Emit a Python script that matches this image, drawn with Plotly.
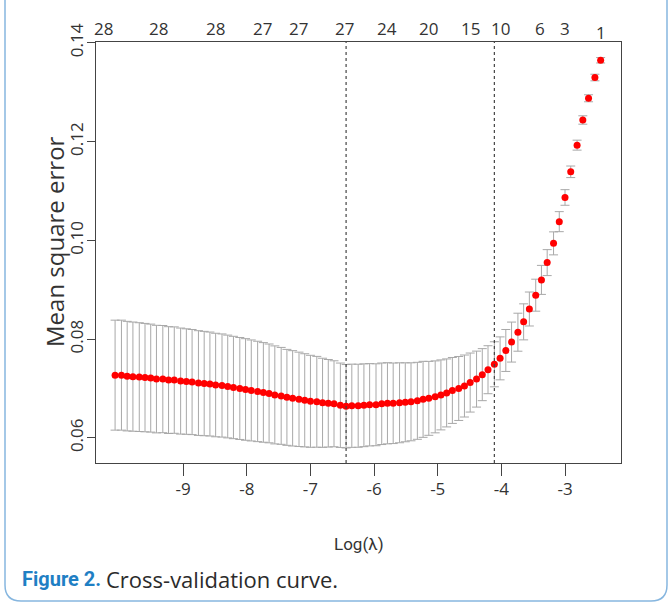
import plotly.graph_objects as go

# log(lambda) for each fitted lambda (left to right)
log_lambda = [-10.07, -9.97, -9.88, -9.79, -9.69, -9.60, -9.51, -9.42, -9.32, -9.23,
              -9.14, -9.04, -8.95, -8.86, -8.76, -8.67, -8.58, -8.49, -8.39, -8.30,
              -8.21, -8.11, -8.02, -7.93, -7.83, -7.74, -7.65, -7.56, -7.46, -7.37,
              -7.28, -7.18, -7.09, -7.00, -6.90, -6.81, -6.72, -6.63, -6.53, -6.44,
              -6.35, -6.25, -6.16, -6.07, -5.97, -5.88, -5.79, -5.70, -5.60, -5.51,
              -5.42, -5.32, -5.23, -5.14, -5.04, -4.95, -4.86, -4.77, -4.67, -4.58,
              -4.49, -4.39, -4.30, -4.21, -4.11, -4.02, -3.93, -3.84, -3.74, -3.65,
              -3.56, -3.46, -3.37, -3.28, -3.18, -3.09, -3.00, -2.91, -2.81, -2.72,
              -2.63, -2.53, -2.44]

# cross-validated mean square error
cvm = [0.0727, 0.0727, 0.0725, 0.0724, 0.0723, 0.0722, 0.0721, 0.0719, 0.0719, 0.0717,
       0.0717, 0.0715, 0.0714, 0.0713, 0.0711, 0.0710, 0.0709, 0.0707, 0.0706, 0.0704,
       0.0702, 0.0700, 0.0698, 0.0696, 0.0694, 0.0692, 0.0690, 0.0687, 0.0685, 0.0682,
       0.0680, 0.0678, 0.0676, 0.0674, 0.0673, 0.0671, 0.0670, 0.0669, 0.0666, 0.0664,
       0.0665, 0.0665, 0.0666, 0.0667, 0.0667, 0.0669, 0.0670, 0.0670, 0.0671, 0.0672,
       0.0673, 0.0675, 0.0678, 0.0680, 0.0683, 0.0687, 0.0691, 0.0696, 0.0700, 0.0705,
       0.0712, 0.0719, 0.0728, 0.0738, 0.0749, 0.0761, 0.0777, 0.0794, 0.0814, 0.0835,
       0.0861, 0.0889, 0.0920, 0.0955, 0.0994, 0.1038, 0.1087, 0.1139, 0.1193, 0.1244,
       0.1288, 0.1330, 0.1365]

# standard error of the CV estimate
cvsd = [0.01114, 0.01114, 0.01110, 0.01106, 0.01102, 0.01098, 0.01094, 0.01090, 0.01086, 0.01082,
        0.01078, 0.01074, 0.01069, 0.01065, 0.01061, 0.01057, 0.01053, 0.01049, 0.01045, 0.01041,
        0.01037, 0.01033, 0.01029, 0.01023, 0.01017, 0.01009, 0.01001, 0.00993, 0.00982, 0.00972,
        0.00966, 0.00956, 0.00944, 0.00932, 0.00920, 0.00903, 0.00887, 0.00871, 0.00855, 0.00845,
        0.00843, 0.00841, 0.00839, 0.00834, 0.00830, 0.00826, 0.00822, 0.00816, 0.00810, 0.00800,
        0.00790, 0.00780, 0.00770, 0.00749, 0.00729, 0.00709, 0.00689, 0.00668, 0.00648, 0.00628,
        0.00598, 0.00567, 0.00527, 0.00486, 0.00456, 0.00435, 0.00425, 0.00405, 0.00385, 0.00365,
        0.00344, 0.00324, 0.00294, 0.00263, 0.00233, 0.00203, 0.00158, 0.00117, 0.00101, 0.00085,
        0.00071, 0.00067, 0.00055]

# number of non-zero coefficients (top axis)
nz_pos = [-10.26, -9.39, -8.50, -7.76, -7.19, -6.46, -5.80, -5.15, -4.49, -4.01, -3.40, -3.00, -2.44]
nz_labels = ["28", "28", "28", "27", "27", "27", "24", "20", "15", "10", "6", "3", "1"]

lambda_min = -6.44
lambda_1se = -4.11

x_ticks = [-9, -8, -7, -6, -5, -4, -3]
y_ticks = [0.06, 0.08, 0.10, 0.12, 0.14]
y_tick_text = ["0.06", "0.08", "0.10", "0.12", "0.14"]

# plot area in pixels
L, R, T, B = 96, 621, 42, 463
W, H = 672, 608


def px(x):
    return (x - L) / (R - L)


def py(y):
    return (B - y) / (B - T)


fig = go.Figure()
fig.add_trace(go.Scatter(
    x=log_lambda, y=cvm, mode="markers",
    marker=dict(color="#ff0000", size=7, line=dict(width=0)),
    error_y=dict(type="data", array=cvsd, visible=True, color="#a8a8a8",
                 thickness=1, width=4.5),
    showlegend=False, hoverinfo="skip",
))

shapes = []
for xv in (lambda_min, lambda_1se):
    shapes.append(dict(type="line", xref="x", yref="paper", x0=xv, x1=xv, y0=0, y1=1,
                       line=dict(color="#444444", width=1.2, dash="dot")))

# rounded card border
x0, x1, y0, y1, r = px(5), px(667), py(-10), py(601), 16 / (R - L)
ry = 16 / (B - T)
path = (f"M {x0},{y0} L {x0},{y1 + ry} Q {x0},{y1} {x0 + r},{y1} "
        f"L {x1 - r},{y1} Q {x1},{y1} {x1},{y1 + ry} L {x1},{y0}")
shapes.append(dict(type="path", xref="paper", yref="paper", path=path,
                   line=dict(color="#86b6df", width=1.5)))

annotations = []
for pos, lab in zip(nz_pos, nz_labels):
    annotations.append(dict(x=pos, y=py(29 if lab != "1" else 33), xref="x", yref="paper",
                            text=lab, showarrow=False, xanchor="center", yanchor="middle",
                            font=dict(family="Open Sans", size=17, color="#333333")))

annotations.append(dict(x=0.5, y=py(544), xref="paper", yref="paper", text="Log(λ)",
                        showarrow=False, xanchor="center", yanchor="middle",
                        font=dict(family="Roboto", size=17, color="#333333")))
annotations.append(dict(x=px(54), y=py(242), xref="paper", yref="paper", text="Mean square error",
                        showarrow=False, xanchor="center", yanchor="middle", textangle=-90,
                        font=dict(family="Open Sans", size=24, color="#333333")))
annotations.append(dict(x=px(20), y=py(579), xref="paper", yref="paper",
                        text="<b>Figure 2.</b>",
                        showarrow=False, xanchor="left", yanchor="middle",
                        font=dict(family="Roboto", size=20, color="#1f7fc4")))
annotations.append(dict(x=px(104), y=py(579), xref="paper", yref="paper",
                        text="Cross-validation curve.",
                        showarrow=False, xanchor="left", yanchor="middle",
                        font=dict(family="Open Sans", size=22, color="#2b2b2b")))

fig.update_layout(
    width=W, height=H,
    margin=dict(l=L, r=W - R, t=T, b=H - B),
    paper_bgcolor="white", plot_bgcolor="white",
    shapes=shapes, annotations=annotations,
    xaxis=dict(range=[-10.37, -2.12], tickvals=x_ticks, ticktext=[str(v) for v in x_ticks],
               showgrid=False, zeroline=False, showline=True, mirror=True,
               linecolor="#444444", linewidth=1.2, ticks="outside", ticklen=12,
               tickcolor="#444444", tickwidth=1,
               tickfont=dict(family="Open Sans", size=17, color="#333333"),
               ticklabelstandoff=-2),
    yaxis=dict(range=[0.0549, 0.1402], tickvals=y_ticks, ticktext=y_tick_text,
               showgrid=False, zeroline=False, showline=True, mirror=True,
               linecolor="#444444", linewidth=1.2, ticks="outside", ticklen=8,
               tickcolor="#444444", tickwidth=1, tickangle=-90,
               tickfont=dict(family="Open Sans", size=17, color="#333333"),
               ticklabelstandoff=-3),
)

fig.write_html("out.html", config={"displayModeBar": False},
               post_script="document.body.style.margin='0';document.body.style.padding='0';")
